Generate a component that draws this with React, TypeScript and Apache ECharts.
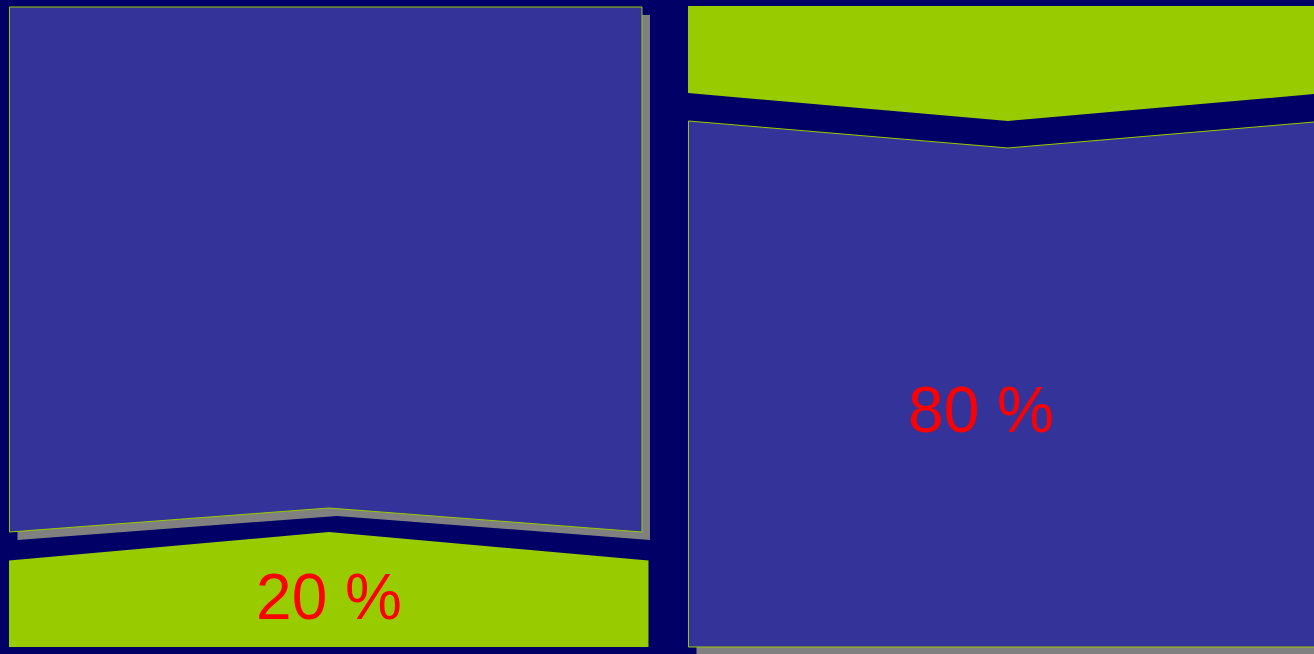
import React, { useEffect, useRef } from "react";
import * as echarts from "echarts";

const categories = ["Left", "Right"];
const shares = [20, 80];
const greenPlacement = ["bottom", "top"];

const BG = "#000066";
const PURPLE = "#333399";
const GREEN = "#99CC00";
const SHADOW = "#808080";

export default function App() {
  const ref = useRef<HTMLDivElement>(null);
  useEffect(() => {
    document.body.style.margin = "0";
    const chart = echarts.init(ref.current!, null, { renderer: "svg" });
    const renderItem = (params: any, api: any) => {
      const idx = api.value(0);
      const val = api.value(1);
      const place = greenPlacement[idx];
      const [cx, bottom] = api.coord([idx, 0]);
      const top = api.coord([idx, 100])[1];
      const xl = cx - 319.5;
      const xr = cx + 313;
      const gl = cx - 320;
      const gr = cx + 319.5;
      const sdx = 8;
      const sdy = 8;
      const children: any[] = [];
      let purple: number[][];
      let green: number[][];
      let textY: number;
      let textX: number;
      if (place === "bottom") {
        purple = [
          [xl, top + 1],
          [xr, top + 1],
          [xr, bottom - 115],
          [cx, bottom - 139],
          [xl, bottom - 115],
        ];
        green = [
          [gl, bottom - 86.5],
          [cx, bottom - 115],
          [gr, bottom - 86.5],
          [gr, bottom],
          [gl, bottom],
        ];
        textX = cx;
        textY = bottom - 50;
      } else {
        purple = [
          [xl, top + 115],
          [cx, top + 142],
          [cx + 330, top + 114],
          [cx + 330, bottom],
          [xl, bottom],
        ];
        green = [
          [gl, top],
          [cx + 330, top],
          [cx + 330, top + 86],
          [cx, top + 115],
          [gl, top + 87],
        ];
        textX = cx - 27;
        textY = top + 404;
      }
      const shadow = purple.map((p) => [p[0] + sdx, p[1] + sdy]);
      children.push({ type: "polygon", shape: { points: shadow }, style: { fill: SHADOW } });
      children.push({
        type: "polygon",
        shape: { points: purple },
        style: { fill: PURPLE, stroke: GREEN, lineWidth: 1 },
      });
      children.push({ type: "polygon", shape: { points: green }, style: { fill: GREEN } });
      children.push({
        type: "text",
        style: {
          text: `${val} %`,
          x: textX,
          y: textY,
          fill: "#FF0000",
          font: '64px "Liberation Sans", Arial, sans-serif',
          align: "center",
          verticalAlign: "middle",
        },
      });
      return { type: "group", children };
    };
    chart.setOption({
      animation: false,
      backgroundColor: BG,
      grid: { left: 0, right: 0, top: 6, bottom: 7 },
      xAxis: { type: "value", min: -0.4845, max: 1.4507, show: false },
      yAxis: { type: "value", min: 0, max: 100, show: false },
      series: [
        {
          type: "custom",
          renderItem,
          data: shares.map((v, i) => [i, v, categories[i]]),
        },
      ],
    });
    return () => chart.dispose();
  }, []);
  return <div ref={ref} style={{ width: 1314, height: 654 }} />;
}
